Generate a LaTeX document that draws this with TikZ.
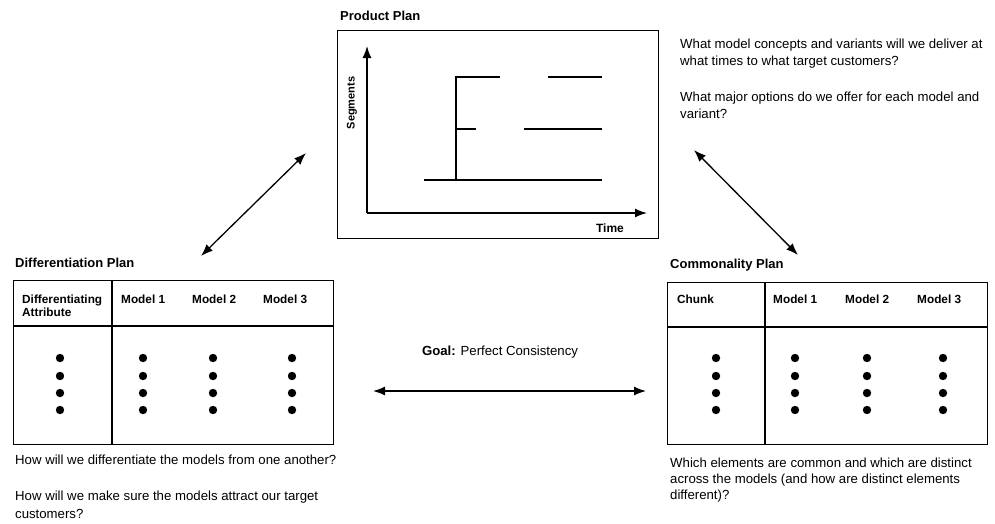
\documentclass[tikz,border=0pt]{standalone}
\usepackage{fontspec}
\setmainfont{Liberation Sans}
\usetikzlibrary{arrows.meta}
\tikzset{
    plan/.style={font=\fontsize{13}{15}\selectfont\bfseries, anchor=west, inner sep=0pt},
    head/.style={font=\fontsize{11.8}{13}\selectfont\bfseries, anchor=west, align=left, inner sep=0pt},
    note/.style={font=\fontsize{13.2}{17.5}\selectfont, anchor=north west, align=left, inner sep=0pt},
    frame/.style={draw, line width=1.3pt, anchor=north west, inner sep=0pt},
}
\begin{document}
\begin{tikzpicture}[x=1pt,y=-1pt,>={Latex[length=12pt,width=9pt]}]
\useasboundingbox (0,0) rectangle (995,523);

% Product plan:
% The box is a node, the axes are drawn with `->` inside it
\node [plan] (pptitle) at (340,16) {Product Plan};
\node [frame, minimum width=321pt, minimum height=208pt] (ppbox) at (337,30) {};
\begin{scope}[line width=1.4pt]
    \draw [->] (367,213) -- (367,46);
    \draw [->] (367,213) -- (647,213);
    \node [head, font=\fontsize{11}{13}\selectfont\bfseries, rotate=90, anchor=center] (segments) at (352,103) {Segments};
    \node [head, font=\fontsize{12}{13}\selectfont\bfseries, anchor=center] (time) at (610,228) {Time};

    % Segment lines
    \draw (424,180) -- (602,180);
    \draw (456,180) -- (456,77) -- (500,77);
    \draw (548,77) -- (602,77);
    \draw (456,129) -- (476,129);
    \draw (524,129) -- (602,129);
\end{scope}

\node [note] (ppnote) at (680,38.5) {What model concepts and variants will we deliver at\\what times to what target customers?\\[18pt]What major options do we offer for each model and\\variant?};

% Differentiation plan:
\node [plan] (dptitle) at (15,263) {Differentiation Plan};
\node [frame, minimum width=320pt, minimum height=164pt] (dpbox) at (13,280) {};
\draw [line width=1.3pt] (13,326) -- (333,326);
\draw [line width=1.3pt] (112,280) -- (112,444);
\node [head] (dpattr) at (22,306) {Differentiating\\Attribute};
\node [head] (dpm1) at (121,299) {Model 1};
\node [head] (dpm2) at (192,299) {Model 2};
\node [head] (dpm3) at (263,299) {Model 3};
\foreach \x in {60,143,213,292}
    \foreach \y in {358,376,393,410}
        \fill (\x,\y) circle (4.2pt);
\node [note] (dpnote) at (15,454.5) {How will we differentiate the models from one another?\\[19pt]How will we make sure the models attract our target\\customers?};

% Commonality plan:
\node [plan] (cptitle) at (670,265) {Commonality Plan};
\node [frame, minimum width=320pt, minimum height=162pt] (cpbox) at (667,282) {};
\draw [line width=1.3pt] (667,327) -- (987,327);
\draw [line width=1.3pt] (765,282) -- (765,444);
\node [head] (cpchunk) at (677,299) {Chunk};
\node [head] (cpm1) at (773,299) {Model 1};
\node [head] (cpm2) at (845,299) {Model 2};
\node [head] (cpm3) at (917,299) {Model 3};
\foreach \x in {716,795,867,943}
    \foreach \y in {358,376,393,410}
        \fill (\x,\y) circle (4.2pt);
\node [note, font=\fontsize{13.2}{16}\selectfont] (cpnote) at (670,457.5) {Which elements are common and which are distinct\\across the models (and how are distinct elements\\different)?};

% Goal
\node [note, anchor=center] (goal) at (500,352) {\textbf{Goal:} Perfect Consistency};

% Arrows between the plans
\coordinate (dpend) at (201,256);
\coordinate (ppleft) at (306,153);
\coordinate (ppright) at (694,150);
\coordinate (cpend) at (798,255);
\coordinate (goall) at (373,391);
\coordinate (goalr) at (646,391);
\begin{scope}[line width=1.3pt]
    \draw [<->] (dpend) -- (ppleft);
    \draw [<->] (ppright) -- (cpend);
    \draw [<->] (goall) -- (goalr);
\end{scope}
\end{tikzpicture}
\end{document}
